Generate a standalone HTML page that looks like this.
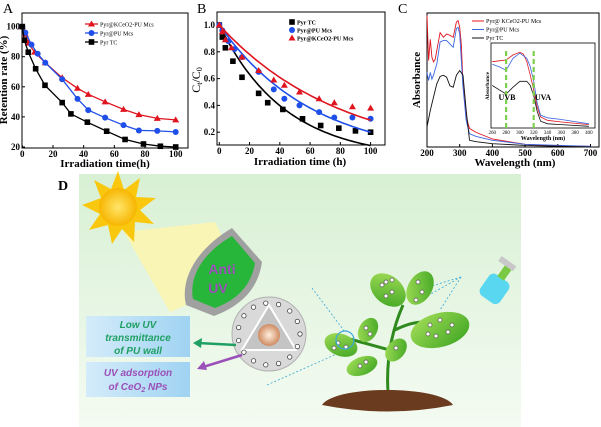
<!DOCTYPE html>
<html><head><meta charset="utf-8"><style>
body{margin:0;background:#fff}
svg{display:block}
</style></head><body>
<svg id="fig" width="601" height="427" viewBox="0 0 601 427" xmlns="http://www.w3.org/2000/svg" font-family="Liberation Serif, serif">
<defs>
<linearGradient id="bg" x1="0" y1="0" x2="0" y2="1"><stop offset="0" stop-color="#d8f0d4"/><stop offset="1" stop-color="#f4fbf2"/></linearGradient>
<linearGradient id="box" x1="0" y1="0" x2="1" y2="0"><stop offset="0" stop-color="#d4ecfa"/><stop offset="1" stop-color="#9fd3f2"/></linearGradient>
<linearGradient id="leaf" x1="0" y1="0" x2="1" y2="1"><stop offset="0" stop-color="#a8e05a"/><stop offset="1" stop-color="#3aa320"/></linearGradient>
<radialGradient id="sun"><stop offset="0" stop-color="#ffe66a"/><stop offset="1" stop-color="#f7b500"/></radialGradient>
<radialGradient id="core"><stop offset="0" stop-color="#fff0e0"/><stop offset="1" stop-color="#d08a60"/></radialGradient>
</defs>
<g id="chartA"></g>
<g id="chartB"></g>
<g id="chartC"></g>
<g id="panelD">
<text x="58" y="190" font-size="14" font-weight="bold">D</text>
<rect x="79" y="174" width="442" height="253" fill="url(#bg)"/>
<polygon points="124,232 215,222 245,280 170,312" fill="#fbf5b0" opacity="0.9"/>
<g>
<polygon points="118,171 124,190 140,178 136,197 156,198 140,210 154,224 135,222 134,242 122,229 112,244 108,225 89,230 100,214 82,205 101,198 94,180 111,189" fill="#f9c80e"/>
<circle cx="118" cy="207" r="19" fill="url(#sun)"/>
</g>
<g>
<path d="M232,228 L262,262 C258,290 240,306 214,316 L186,305 C180,280 195,250 232,228Z" fill="#a0a0a0"/>
<path d="M232,236 L255,263 C251,287 236,300 215,308 L193,299 C189,278 201,254 232,236Z" fill="#27b53a"/>
<text x="222" y="274" font-size="14" font-weight="bold" fill="#9b4fb8" text-anchor="middle" font-family="Liberation Sans, sans-serif">Anti</text>
<text x="218" y="293" font-size="14" font-weight="bold" fill="#9b4fb8" text-anchor="middle" font-family="Liberation Sans, sans-serif">UV</text>
</g>
<g>
<circle cx="269" cy="334" r="37" fill="#d9d9d9" stroke="#b0b0b0"/>
<polygon points="269,305 296,350 242,350" fill="#c4c4c4" stroke="#fff" stroke-width="2"/>
<circle cx="269" cy="335" r="11" fill="url(#core)"/>
<g id="dots" fill="#fff" stroke="#444" stroke-width="0.8"></g>
</g>
<rect x="86" y="316" width="104" height="41" fill="url(#box)"/>
<text font-size="10" font-weight="bold" font-style="italic" fill="#1fa062" text-anchor="middle" font-family="Liberation Sans, sans-serif"><tspan x="138" y="328">Low UV</tspan><tspan x="138" y="341">transmittance</tspan><tspan x="138" y="354">of PU wall</tspan></text>
<rect x="86" y="362" width="104" height="35" fill="url(#box)"/>
<text font-size="10" font-weight="bold" font-style="italic" fill="#9b4fb8" text-anchor="middle" font-family="Liberation Sans, sans-serif"><tspan x="138" y="376">UV adsorption</tspan><tspan x="138" y="390">of CeO<tspan font-size="7" dy="2">2</tspan><tspan dy="-2"> NPs</tspan></tspan></text>
<path d="M236,345 L198,343" stroke="#1fa062" stroke-width="2.5"/>
<polygon points="193,343 202,338 201,348" fill="#1fa062"/>
<path d="M242,355 L203,367" stroke="#9b4fb8" stroke-width="2.5"/>
<polygon points="197,369 204,361 207,370" fill="#9b4fb8"/>
<g stroke="#3aa8d8" stroke-width="0.8" stroke-dasharray="2,2" fill="none">
<line x1="312" y1="288" x2="345" y2="332"/><line x1="267" y1="385" x2="341" y2="352"/>
<line x1="461" y1="277" x2="412" y2="292"/><line x1="461" y1="277" x2="440" y2="310"/><line x1="461" y1="277" x2="420" y2="300"/>
</g>
<g>
<path d="M388,392 C386,360 392,330 403,305 M390,350 C370,345 355,340 345,338 M395,330 C415,320 430,320 440,328" stroke="#2f8a1e" stroke-width="3" fill="none"/>
<ellipse cx="388" cy="290" rx="20" ry="14" transform="rotate(40 388 290)" fill="url(#leaf)"/>
<ellipse cx="420" cy="288" rx="18" ry="12" transform="rotate(-60 420 288)" fill="url(#leaf)"/>
<ellipse cx="440" cy="330" rx="30" ry="17" transform="rotate(-15 440 330)" fill="url(#leaf)"/>
<ellipse cx="341" cy="345" rx="17" ry="11" transform="rotate(20 341 345)" fill="url(#leaf)"/>
<ellipse cx="368" cy="330" rx="13" ry="9" transform="rotate(-60 368 330)" fill="url(#leaf)"/>
<ellipse cx="362" cy="366" rx="16" ry="9" transform="rotate(-20 362 366)" fill="url(#leaf)"/>
<ellipse cx="396" cy="350" rx="13" ry="9" transform="rotate(-50 396 350)" fill="url(#leaf)"/>
<g id="leafdots" fill="#fff" stroke="#555" stroke-width="0.7"></g>
<circle cx="345" cy="340" r="9" fill="none" stroke="#3aa8d8" stroke-width="1.2"/>
<path d="M322,405 C335,385 440,385 453,405 Q388,418 322,405Z" fill="#6b3b1f"/>
</g>
<g transform="rotate(35 496 285)">
<rect x="485" y="276" width="24" height="26" rx="6" fill="#5ad7f0"/>
<rect x="492" y="262" width="8" height="15" fill="#7ac943"/>
<rect x="484" y="258" width="18" height="6" fill="#c8c8c8"/>
</g>
</g>
<script>
const NS="http://www.w3.org/2000/svg";
function mk(tag,attrs,parent){const e=document.createElementNS(NS,tag);for(const k in attrs)e.setAttribute(k,attrs[k]);parent.appendChild(e);return e;}
// ---- Panel A data ----
const aRedX=[0,2,4,8,15,26,36,43,54,66,76,88,100];
const aRedY=[100,95,89,83,76,66,59,55,50,45,41.5,39,38];
const aBlueX=[0,2,6,10,15,26,36,43,54,66,76,88,100];
const aBlueY=[100,96,88,82,76,65,52,44.5,39.5,34.5,31,30.7,30];
const aBlackX=[0,1.3,3.9,8.7,14.8,26,31.7,42.4,55,67,79,90,100];
const aBlackY=[100,91,83,72,61,49.5,42,36.5,30.5,25,22,20.5,20];
const aXTicks=[0,20,40,60,80,100];
const aYTicks=[20,40,60,80,100];
const aLegend=["Pyr@KCeO2-PU Mcs","Pyr@PU Mcs","Pyr TC"];
// ---- Panel B data ----
const bBlackX=[0,2,4,9,15,26,32,42,55,67,79,90,100];
const bBlackY=[1.0,0.91,0.83,0.73,0.61,0.49,0.42,0.37,0.30,0.25,0.23,0.21,0.20];
const bBlueX=[0,2,6,10,15,26,36,43,53,66,76,88,100];
const bBlueY=[1.0,0.96,0.88,0.82,0.76,0.65,0.52,0.45,0.40,0.35,0.31,0.31,0.30];
const bRedX=[0,2,4,8,15,26,36,43,53,66,76,88,100];
const bRedY=[1.0,0.95,0.89,0.83,0.76,0.66,0.59,0.55,0.50,0.45,0.42,0.39,0.38];
const bRateK=[0.023,0.0161,0.0124];
const bXTicks=[0,20,40,60,80,100];
const bYTicks=[0.2,0.4,0.6,0.8,1.0];
// ---- Panel C data ----
const cRedWl=[200,205,210,215,220,225,230,240,250,260,270,280,290,295,300,305,310,320,330,350,400,450,500,600,700];
const cRedAbs=[0.99,0.65,0.81,0.675,0.64,0.66,0.725,0.86,0.825,0.85,0.84,0.825,0.94,0.95,0.9,0.775,0.475,0.225,0.14,0.11,0.06,0.04,0.02,0.008,0.005];
const cBlueWl=[200,205,210,215,220,230,240,250,260,270,280,290,295,300,310,320,330,350,400,500,700];
const cBlueAbs=[0.56,0.5,0.56,0.51,0.54,0.625,0.79,0.8,0.8,0.775,0.75,0.89,0.9,0.85,0.45,0.2,0.1,0.08,0.05,0.02,0.005];
const cBlackWl=[200,210,220,230,240,250,260,270,280,290,300,310,320,330,350,400,500,700];
const cBlackAbs=[0.15,0.275,0.375,0.475,0.53,0.54,0.525,0.46,0.45,0.54,0.575,0.54,0.275,0.05,0.04,0.025,0.012,0];
const iRedWl=[260,270,280,290,300,305,310,315,320,325,330,340,360,400];
const iRedAbs=[0.78,0.79,0.8,0.86,0.89,0.87,0.78,0.62,0.45,0.25,0.13,0.09,0.07,0.04];
const iBlueWl=[260,270,280,290,300,310,315,320,325,330,340,360,400];
const iBlueAbs=[0.75,0.72,0.68,0.82,0.88,0.82,0.72,0.55,0.3,0.15,0.12,0.1,0.05];
const iBlackWl=[260,270,280,290,300,310,315,320,325,330,340,360,400];
const iBlackAbs=[0.5,0.45,0.4,0.48,0.55,0.55,0.5,0.38,0.2,0.08,0.05,0.04,0.02];
const cXTicks=[200,300,400,500,600,700];
const iXTicks=[260,280,300,320,340,360,380,400];
const cLegend=["Pyr@ KCeO2-PU Mcs","Pyr@PU Mcs","Pyr TC"];

function pathD(xs,ys,fx,fy){return xs.map((x,i)=>(i?"L":"M")+fx(x).toFixed(1)+","+fy(ys[i]).toFixed(1)).join(" ");}
function marker(g,type,x,y,color){
  let m;
  if(type==="tri") m=mk("polygon",{points:`${x},${y-3.5} ${x+3.5},${y+2.5} ${x-3.5},${y+2.5}`,fill:color},g);
  else if(type==="circ") m=mk("circle",{cx:x,cy:y,r:3,fill:color},g);
  else m=mk("rect",{x:x-2.8,y:y-2.8,width:5.6,height:5.6,fill:color},g);
  
  
  return m;
}
function axesBox(g,l,t,r,b){const e=mk("rect",{x:l,y:t,width:r-l,height:b-t,fill:"none",stroke:"#000","stroke-width":1},g);
  
  }
function txt(g,x,y,s,attrs){const e=mk("text",Object.assign({x:x,y:y},attrs||{}),g);e.textContent=s;return e;}
function tsp(parent,s,attrs){const e=mk("tspan",attrs||{},parent);e.textContent=s;return e;}

// ===== Panel A =====
(function(){
  const g=document.getElementById("chartA");
  const L=22,R=188,T=13,B=148;
  const fx=v=>22.3+v*1.534, fy=v=>147-(v-20)*1.505;
  const lab=txt(g,3,13,"A",{"font-size":14});
  
  
  axesBox(g,L,T,R,B);
  aXTicks.forEach(v=>{mk("line",{x1:fx(v),x2:fx(v),y1:B,y2:B-3,stroke:"#000"},g);
    const t=txt(g,fx(v),157,String(v),{"font-size":9,"font-weight":"bold","text-anchor":"middle"});
    
    });
  aYTicks.forEach(v=>{mk("line",{x1:L,x2:L+3,y1:fy(v),y2:fy(v),stroke:"#000"},g);
    const t=txt(g,L-2,fy(v)+3,String(v),{"font-size":9,"font-weight":"bold","text-anchor":"end"});
    
    });
  const xt=txt(g,105,167,"Irradiation time(h)",{"font-size":11,"font-weight":"bold","text-anchor":"middle"});
  
  
  const yt=txt(g,0,0,"Retention rate  (%)",{"font-size":11,"font-weight":"bold","text-anchor":"middle",transform:"translate(7,80) rotate(-90)"});
  
  
  const series=[[aRedX,aRedY,"#e0141e","tri"],[aBlueX,aBlueY,"#1f4fe8","circ"],[aBlackX,aBlackY,"#000","sq"]];
  series.forEach((s,i)=>{
    const p=mk("path",{d:pathD(s[0],s[1],fx,fy),fill:"none",stroke:s[2],"stroke-width":1.3},g);
    
    
    s[0].forEach((x,j)=>marker(g,s[3],fx(x),fy(s[1][j]),s[2]));
    const ly=24+i*9;
    mk("line",{x1:85,x2:98,y1:ly,y2:ly,stroke:s[2],"stroke-width":1.3},g);
    marker(g,s[3],91.5,ly,s[2]);
    const t=txt(g,100,ly+2.5,aLegend[i],{"font-size":6});
    
    
  });
})();

// ===== Panel B =====
(function(){
  const g=document.getElementById("chartB");
  const L=217,R=385,T=12,B=145;
  const fx=v=>219.3+v*1.513, fy=v=>25+(1-v)*134;
  const lab=txt(g,197,13,"B",{"font-size":14});
  
  
  axesBox(g,L,T,R,B);
  bXTicks.forEach(v=>{mk("line",{x1:fx(v),x2:fx(v),y1:B,y2:B-3,stroke:"#000"},g);
    const t=txt(g,fx(v),154,String(v),{"font-size":9,"font-weight":"bold","text-anchor":"middle"});
    
    });
  bYTicks.forEach(v=>{mk("line",{x1:L,x2:L+3,y1:fy(v),y2:fy(v),stroke:"#000"},g);
    const t=txt(g,L-2,fy(v)+3,v.toFixed(1),{"font-size":9,"font-weight":"bold","text-anchor":"end"});
    
    });
  const xt=txt(g,300,165,"Irradiation time (h)",{"font-size":11,"font-weight":"bold","text-anchor":"middle"});
  
  
  const yt=mk("text",{x:0,y:0,"font-size":12,"text-anchor":"middle",transform:"translate(200,80) rotate(-90)"},g);
  tsp(yt,"C");tsp(yt,"t",{"font-size":8,dy:2});tsp(yt,"/C",{dy:-2});tsp(yt,"0",{"font-size":8,dy:2});
  
  
  const series=[[bBlackX,bBlackY,"#000","sq","Pyr TC"],[bBlueX,bBlueY,"#1f4fe8","circ","Pyr@PU Mcs"],[bRedX,bRedY,"#e0141e","tri","Pyr@KCeO2-PU Mcs"]];
  series.forEach((s,i)=>{
    const k=bRateK[i];let d="";
    for(let t=0;t<=100;t+=2){d+=(t?"L":"M")+fx(t).toFixed(1)+","+fy(Math.exp(-k*t)).toFixed(1);}
    const p=mk("path",{d:d,fill:"none",stroke:s[2],"stroke-width":1.6},g);
    
    
    s[0].forEach((x,j)=>marker(g,s[3],fx(x),fy(s[1][j]),s[2]));
    const ly=22+i*8;
    marker(g,s[3],292,ly,s[2]);
    const t=txt(g,297,ly+2.5,s[4],{"font-size":6,"font-weight":"bold"});
    
    
  });
})();

// ===== Panel C =====
(function(){
  const g=document.getElementById("chartC");
  const L=427,R=599,T=13,B=147;
  const fx=v=>427+(v-200)*0.327, fy=v=>B-v*133;
  const lab=txt(g,398,13,"C",{"font-size":14});
  
  
  axesBox(g,L,T,R,B);
  cXTicks.forEach(v=>{mk("line",{x1:fx(v),x2:fx(v),y1:B,y2:B-3,stroke:"#000"},g);
    const t=txt(g,fx(v),156,String(v),{"font-size":9,"font-weight":"bold","text-anchor":"middle"});
    
    });
  const xt=txt(g,515,166,"Wavelength (nm)",{"font-size":11,"font-weight":"bold","text-anchor":"middle"});
  
  
  const yt=txt(g,0,0,"Absorbance",{"font-size":11,"font-weight":"bold","text-anchor":"middle",transform:"translate(420,80) rotate(-90)"});
  
  
  const ser=[[cRedWl,cRedAbs,"#e0141e"],[cBlueWl,cBlueAbs,"#3a66e0"],[cBlackWl,cBlackAbs,"#111"]];
  ser.forEach((s,i)=>{
    const p=mk("path",{d:pathD(s[0],s[1],fx,fy),fill:"none",stroke:s[2],"stroke-width":0.9},g);
    
    
    const ly=21+i*8.5;
    mk("line",{x1:472,x2:484,y1:ly,y2:ly,stroke:s[2]},g);
    const t=txt(g,486,ly+2,cLegend[i],{"font-size":6});
    
    
  });
  // inset
  const iL=491,iR=595,iT=43,iB=128;
  const ix=v=>492.3+(v-260)*0.69, iy=v=>iB-v*85;
  const ib=mk("rect",{x:iL,y:iT,width:iR-iL,height:iB-iT,fill:"#fff",stroke:"#000","stroke-width":0.8},g);
  
  
  iXTicks.forEach(v=>{const t=txt(g,ix(v),134,String(v),{"font-size":5,"text-anchor":"middle"});
    
    });
  txt(g,543,140,"Wavelength (nm)",{"font-size":6,"font-weight":"bold","text-anchor":"middle"});
  txt(g,0,0,"Absorbance",{"font-size":5.5,"font-weight":"bold","text-anchor":"middle",transform:"translate(489,86) rotate(-90)"});
  [[iRedWl,iRedAbs,"#e0141e"],[iBlueWl,iBlueAbs,"#3a66e0"],[iBlackWl,iBlackAbs,"#111"]].forEach(s=>{
    const p=mk("path",{d:pathD(s[0],s[1],ix,iy),fill:"none",stroke:s[2],"stroke-width":0.8},g);
    
    
  });
  [280,320].forEach(v=>{const l=mk("line",{x1:ix(v),x2:ix(v),y1:iT+8,y2:iB,stroke:"#7ed04b","stroke-width":2.2,"stroke-dasharray":"5,3"},g);
    
    });
  const u1=txt(g,507,100,"UVB",{"font-size":8,"font-weight":"bold","text-anchor":"middle"});
  
  
  const u2=txt(g,543,100,"UVA",{"font-size":8,"font-weight":"bold","text-anchor":"middle"});
  
  
})();

// capsule dots & leaf dots (decoration)
(function(){
  const d=document.getElementById("dots");
  for(let a=0;a<360;a+=24){const r=a*Math.PI/180;mk("circle",{cx:269+31*Math.cos(r),cy:334+31*Math.sin(r),r:2.2},d);}
  const ld=document.getElementById("leafdots");
  [[382,285],[392,292],[386,296],[418,282],[422,292],[416,300],[430,325],[440,320],[448,332],[436,336],[428,334],[452,325],[338,343],[346,347],[334,348],[366,328],[370,334],[360,366],[366,362],[396,348],[386,282],[392,280]].forEach(p=>mk("circle",{cx:p[0],cy:p[1],r:2},ld));
})();
</script>
</svg>
</body></html>
